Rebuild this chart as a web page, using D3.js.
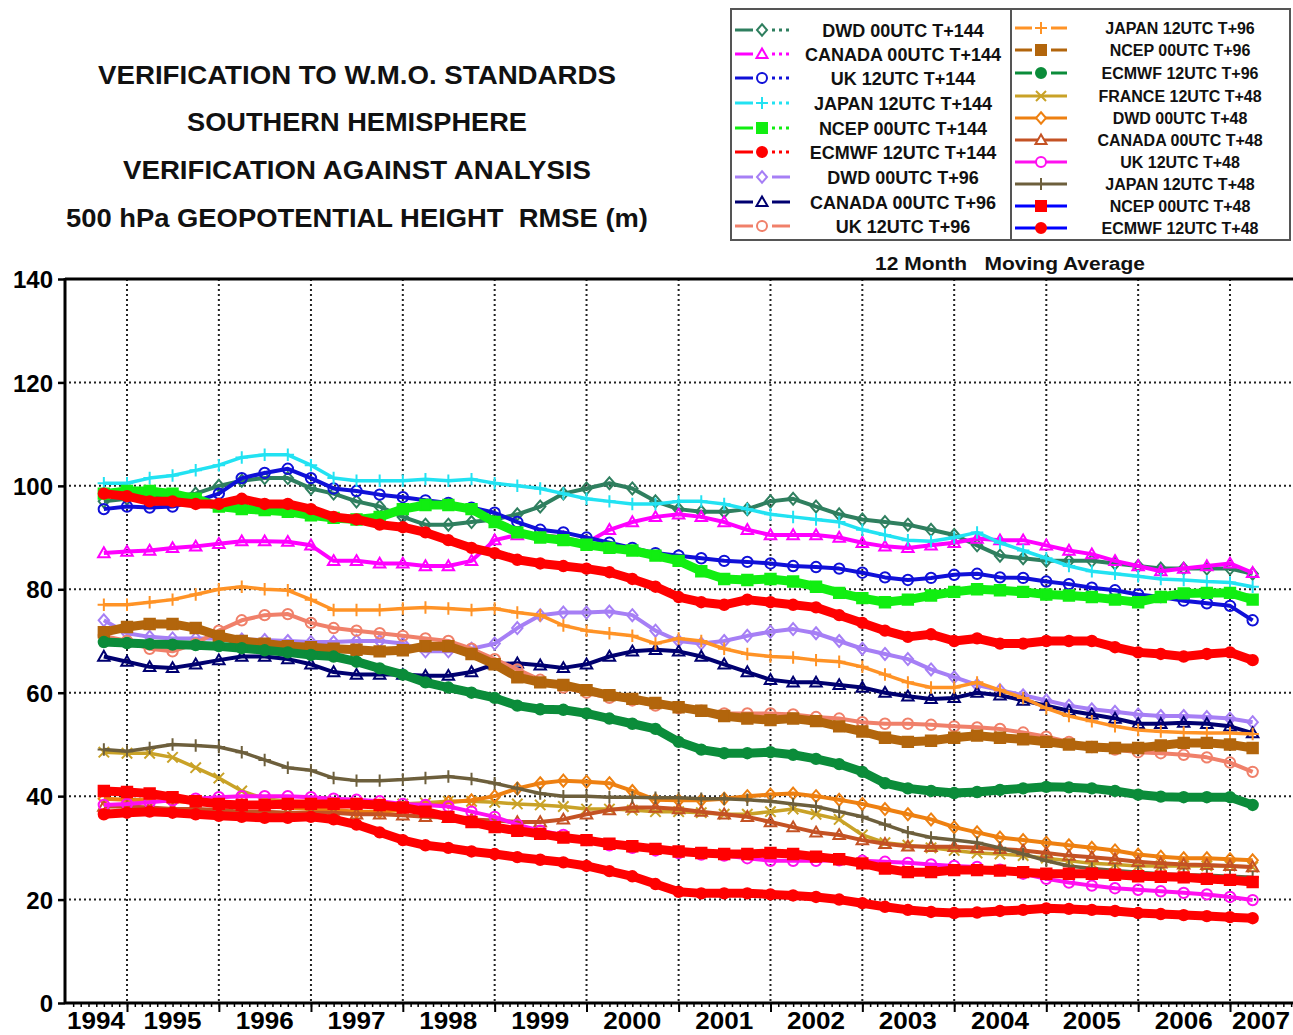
<!DOCTYPE html>
<html><head><meta charset="utf-8">
<script src="https://cdn.jsdelivr.net/npm/d3@7"></script>
<style>
body{margin:0;background:#fff;}
svg{display:block;font-family:"Liberation Sans",Arial,Helvetica,sans-serif;}
text{white-space:pre;}
</style>
</head><body><svg id="c" width="1293" height="1035"></svg>
<script>
// ---------- DATA ----------
const titleLines = [
  "VERIFICATION TO W.M.O. STANDARDS",
  "SOUTHERN HEMISPHERE",
  "VERIFICATION AGAINST ANALYSIS",
  "500 hPa GEOPOTENTIAL HEIGHT  RMSE (m)"
];
const subtitle = "12 Month   Moving Average";
const yTicks = [0, 20, 40, 60, 80, 100, 120, 140];
const yearLabels = ["1994","1995","1996","1997","1998","1999","2000","2001","2002","2003","2004","2005","2006","2007"];
const times = ["1994-10",
 "1995-01","1995-04","1995-07","1995-10","1996-01","1996-04","1996-07","1996-10",
 "1997-01","1997-04","1997-07","1997-10","1998-01","1998-04","1998-07","1998-10",
 "1999-01","1999-04","1999-07","1999-10","2000-01","2000-04","2000-07","2000-10",
 "2001-01","2001-04","2001-07","2001-10","2002-01","2002-04","2002-07","2002-10",
 "2003-01","2003-04","2003-07","2003-10","2004-01","2004-04","2004-07","2004-10",
 "2005-01","2005-04","2005-07","2005-10","2006-01","2006-04","2006-07","2006-10",
 "2007-01","2007-04"];

const seriesNames = [
  "DWD 00UTC T+144","CANADA 00UTC T+144","UK 12UTC T+144","JAPAN 12UTC T+144",
  "NCEP 00UTC T+144","ECMWF 12UTC T+144","DWD 00UTC T+96","CANADA 00UTC T+96",
  "UK 12UTC T+96","JAPAN 12UTC T+96","NCEP 00UTC T+96","ECMWF 12UTC T+96",
  "FRANCE 12UTC T+48","DWD 00UTC T+48","CANADA 00UTC T+48","UK 12UTC T+48",
  "JAPAN 12UTC T+48","NCEP 00UTC T+48","ECMWF 12UTC T+48"];

const dwd144 = [97,97.5,98,98,98.5,100,101,101.5,101.5,99.5, 98.5,97,96,94,92.5,92.5,93,93.5,94.5,96, 98.5,99.5,100.5,99.5,97,95.5,95,95,95.5,97, 97.5,96,94.5,93.5,93,92.5,91.5,90.5,88.5,86.5, 86,85.5,85.5,85.5,85,84.5,84,84,84,84, 83];
const can144 = [87,87.3,87.5,88,88.3,88.8,89.3,89.3,89.2,88.5, 85.5,85.5,85,85,84.5,84.5,85.5,89.5,90.5,90.5, 90,89,91.5,93,94,94.5,94,93,91.5,90.5, 90.5,90.5,90,89,88.3,88,88.5,89,89.8,89.5, 89.5,88.5,87.5,86.8,85.5,84.5,83.5,84,84.5,85, 83.2];
const uk144 = [95.5,96,95.8,96,97,98.5,101.5,102.5,103.3,101.5, 99.5,99,98.3,97.8,97.2,96.7,95.8,94.8,93,91.5, 91,90,89,88,87,86.5,86,85.5,85.3,85, 84.5,84.3,84,83.2,82.3,81.8,82.2,82.8,83,82.3, 82.2,81.5,81,80.3,79.8,79,78.5,77.8,77.3,76.8, 74];
const jap144 = [100.5,100.5,101.5,102,103,104,105.5,106,106,104, 101.5,101,101,101,101.3,101,101.3,100.5,100,99.5, 98.5,97.5,97,96.5,96.5,97,97,96.5,95.5,94.5, 94,93.5,93,91.5,90.5,89.5,89.3,90,91,89, 87.5,86,84.5,83.5,83,82.5,82,81.8,81.5,81.3, 80.5];
const ncep144 = [98.5,99,99,98.5,97.5,96,95.5,95.3,95,94.3, 93.8,93.5,94,95.5,96.3,96.3,95.5,93,91,90, 89.5,88.6,88,87.5,86.5,85.5,83.5,82,81.8,82, 81.5,80.5,79.3,78.3,77.5,78,78.8,79.5,80,79.8, 79.5,79,78.8,78.5,78,77.5,78.5,79.2,79.3,79.3, 78];
const ecm144 = [98.5,98,97,97,96.5,96.5,97.5,96.5,96.5,95.5, 94,93.5,92.5,92,91,89.5,88,87,85.7,85, 84.5,84,83.3,82,80.5,78.5,77.5,77,78,77.5, 77,76.5,75,73.5,72,70.8,71.3,70,70.5,69.5, 69.5,70,70,70,68.8,67.8,67.5,67,67.5,67.8, 66.3];
const dwd96 = [74,71.5,70.8,70.5,70.5,70.5,70.3,70.2,70,69.8, 69.8,70,70,69.5,68,68,68.5,69.5,72.5,75, 75.5,75.5,75.7,75,72,70,69.5,70,71,71.8, 72.3,71.5,70,68.5,67.5,66.5,64.5,63,61.5,60.5, 59.5,58.5,57.5,56.8,56.3,55.8,55.5,55.5,55.3,55, 54.3];
const can96 = [67,66,65,64.8,65.5,66.3,67,67,66.5,65.5, 64,63.5,63.5,63.5,63.3,63.3,64,65.5,65.7,65.3, 64.8,65.5,67,68,68.3,68,67,65.5,64,62.5, 62,62,61.5,61,60,59.3,58.8,59,60,59.5, 58.5,57.5,56.5,55.8,55,54,54,54.2,54,53.5, 52.2];
const uk96 = [71,70,68.5,68,69.5,72,74,75,75.2,73.5, 72.5,72,71.5,71,70.5,70,68.5,66.5,64.5,62.5, 61,60,59,58.5,57.5,57,56.5,56,56,56, 55.8,55.3,55,54.3,54,54,53.8,53.5,53.3,53, 52.3,51.5,50.5,49.5,49,48.5,48.3,48,47.5,46.5, 44.7];
const jap96 = [77,77,77.5,78,79,80,80.5,80,79.8,78, 76,76,76,76.3,76.5,76.3,76,76.3,75.5,75, 73,72,71.5,71,69.5,70.5,70,68.5,67.5,67, 66.8,66.3,66,65,63.5,62,61,61,62,60.5, 59,57,55.5,54.5,53.5,52.8,52.5,52.3,52.2,52.2, 52];
const ncep96 = [71.7,72.7,73.3,73.3,72.5,71,70,69.5,69,68.8, 68.5,68.3,68,68.2,69,69,67.5,65.5,63,62, 61.5,60.5,59.5,58.8,58,57.2,56.5,55.5,55,54.7, 55,54.5,53.5,52.5,51.3,50.5,50.7,51.3,51.7,51.3, 51,50.5,50,49.5,49.3,49.3,49.8,50.3,50.3,50, 49.3];
const ecm96 = [69.8,69.6,69.4,69.3,69.2,69,68.6,68.2,67.8,67.3, 67,66,64.7,63.5,62,61,60,59,57.5,56.8, 56.7,56,55,54,53,50.5,49,48.3,48.3,48.5, 48,47.2,46.2,44.7,42.5,41.5,41,40.6,40.8,41.2, 41.5,41.8,41.7,41.5,41,40.3,39.9,39.8,39.8,39.8, 38.3];
const fra48 = [48.5,48.3,48.3,47.5,45.5,43.5,41,39.5,39,38.8, 38.5,38.5,38.5,38.5,38.7,39,39,38.8,38.5,38.3, 38,37.5,37.5,37.3,37,37,36.8,36.5,36.5,37, 37.5,36.5,35.5,32.5,31,30.5,30,29.5,29,28.8, 28.5,28,27.5,27,26.8,26.5,26.5,26.5,26.5,26.5, 26.3];
const dwd48 = [39.5,39.3,39.2,39,38.8,38.5,38.3,38,37.8,37.5, 37.3,37,37,37.3,38,38.8,39.2,40,41.5,42.5, 43,42.8,42.5,41,39.3,39.2,39.2,39.5,40,40.3, 40.5,40,39.3,38.5,37.5,36.5,35.5,34,33,32, 31.5,31,30.5,30,29.5,28.7,28.3,28,28,27.8, 27.6];
const can48 = [38,38,37.8,37.5,37.5,37.3,37,37,36.8,36.8, 36.8,36.5,36.5,36.3,36,35.8,35.5,35.3,35,35, 35.5,36.5,37.3,37.8,37.8,37.5,37,36.5,36,35, 34,33,32.5,31.5,30.8,30.3,30.2,30.2,30,29.8, 29.5,29,28.5,28.2,27.8,27.3,27,26.8,26.7,26.5, 26.3];
const uk48 = [38.3,38.5,38.8,39.2,39.5,39.8,40,40,40,39.8, 39.5,39.3,39,38.5,38.3,38,37,36,34.5,33.3, 32.5,31.5,30.5,30,29.5,29,28.7,28.5,28,27.5, 27.5,27.5,27.6,27.5,27.3,27.1,26.8,26.5,26.3,25.8, 25,24,23.3,22.7,22.2,21.9,21.6,21.3,21,20.5, 19.9];
const jap48 = [49,48.7,49.3,50,49.8,49.5,48.5,47,45.5,45, 43.5,43,43,43.2,43.5,43.8,43.3,42.5,41.5,40.5, 40,40,39.8,39.8,39.7,39.7,39.5,39.5,39.3,39, 38.5,38,37,36,34.5,33,32,31.5,31,30, 28.8,27.5,26.5,26,25.6,25.3,25,24.8,24.7,24.5, 24.3];
const ncep48 = [41,40.8,40.5,39.8,39,38.5,38.3,38.3,38.5,38.5, 38.5,38.5,38.3,37.8,37,36,35,34,33.3,32.7, 32,31.5,30.8,30.3,29.8,29.3,29,28.8,28.8,29, 28.8,28.3,27.8,27,26,25.3,25.3,25.7,25.7,25.6, 25.3,25,25,25,24.8,24.5,24.4,24.3,24,23.8, 23.4];
const ecm48 = [36.5,36.8,37,36.8,36.5,36.2,36,35.8,35.8,36, 35.5,34.5,33,31.5,30.5,30,29.3,28.8,28.2,27.7, 27.2,26.5,25.5,24.5,23,21.5,21.2,21.2,21.2,21, 20.8,20.5,20,19.3,18.6,18,17.6,17.4,17.5,17.8, 18,18.3,18.2,18,17.8,17.4,17.2,17,16.8,16.6, 16.4];

const seriesValues = [dwd144, can144, uk144, jap144, ncep144, ecm144, dwd96, can96, uk96,
  jap96, ncep96, ecm96, fra48, dwd48, can48, uk48, jap48, ncep48, ecm48];

// ---------- STYLES ----------
const seriesColors = ["#2f7f5f","#ff00ff","#1010d8","#22e2f2","#11ee11","#ff0000","#a67ff5","#000070","#f0806a",
  "#ff9326","#b2650c","#0b8c3a","#c9a227","#ee8011","#c45224","#ff10f0","#6d5f3c","#ff0000","#ff0000"];
const legendLineColors = ["#2f7f5f","#ff00ff","#1010d8","#22e2f2","#11ee11","#ff0000","#a67ff5","#000070","#f0806a",
  "#ff9326","#b2650c","#0b8c3a","#c9a227","#ee8011","#c45224","#ff10f0","#6d5f3c","#0000ff","#0000ff"];
const seriesMarkers = ["diamond","triangle","circle","plus","square","dot","diamond","triangle","circle",
  "plus","square","dot","cross","diamond","triangle","circle","plus","square","dot"];
const seriesLineStyle = ["dashdot","dashdot","dashdot","dashdot","dashdot","dashdot","dash","dash","dash",
  "dash","dash","dash","solid","solid","solid","solid","solid","solid","solid"];

// ---------- DRAW ----------
const svg = d3.select("#c");
const P = {left:65, top:279, right:1293, bottom:1003};
const parse = d3.timeParse("%Y-%m");
const dates = times.map(parse);
const x = d3.scaleTime().domain([new Date(1995,0,1), new Date(2007,0,1)]).range([127,1230]);
const y = d3.scaleLinear().domain([0,140]).range([P.bottom, P.top]);

svg.append("rect").attr("width",1293).attr("height",1035).attr("fill","#fff");

// titles
const titleW = [518, 340, 468, 582];
const titleB = [84, 131, 179, 227];
titleLines.forEach((t,i)=>{
  svg.append("text").attr("x",357).attr("y",titleB[i]).attr("text-anchor","middle")
    .attr("font-size",25).attr("font-weight","bold").attr("fill","#111")
    .attr("textLength",titleW[i]).attr("lengthAdjust","spacingAndGlyphs").text(t);
});
svg.append("text").attr("x",875).attr("y",270).attr("font-size",18).attr("font-weight","bold")
  .attr("fill","#111").attr("textLength",270).attr("lengthAdjust","spacingAndGlyphs").text(subtitle);

// clip
svg.append("defs").append("clipPath").attr("id","clip").append("rect")
  .attr("x",P.left).attr("y",P.top-8).attr("width",P.right-P.left+10).attr("height",P.bottom-P.top+8);

// grid
const grid = svg.append("g").attr("stroke","#222").attr("stroke-width",2).attr("stroke-dasharray","2,3");
yTicks.filter(v=>v>0 && v<140).forEach(v=>{
  grid.append("line").attr("x1",P.left+4).attr("x2",P.right).attr("y1",y(v)).attr("y2",y(v));
});
const yearDates = d3.range(1995,2008).map(yr=>new Date(yr,0,1));
yearDates.forEach(d=>{
  grid.append("line").attr("x1",x(d)).attr("x2",x(d)).attr("y1",P.top).attr("y2",P.bottom);
});

// markers
function markerPath(type, s){
  switch(type){
    case "diamond": return `M0,${-s*1.15}L${s},0L0,${s*1.15}L${-s},0Z`;
    case "triangle": return `M0,${-s*1.1}L${s*1.1},${s*0.8}L${-s*1.1},${s*0.8}Z`;
    case "circle": case "dot": return `M${s},0A${s},${s} 0 1,1 ${-s},0A${s},${s} 0 1,1 ${s},0Z`;
    case "plus": return `M${-s*1.2},0H${s*1.2}M0,${-s*1.2}V${s*1.2}`;
    case "cross": return `M${-s},${-s}L${s},${s}M${-s},${s}L${s},${-s}`;
    case "square": return `M${-s},${-s}H${s}V${s}H${-s}Z`;
  }
}
function markerFill(type,c){ return (type==="square"||type==="dot") ? c : "none"; }
function lineW(type){ return (type==="square"||type==="dot") ? 9 : (type==="plus"||type==="cross") ? 3.5 : 4; }

const plotG = svg.append("g").attr("clip-path","url(#clip)");
const line = d3.line().x((d,i)=>x(dates[i])).y(d=>y(d));
seriesValues.forEach((vals,si)=>{
  const c = seriesColors[si], m = seriesMarkers[si];
  const g = plotG.append("g");
  g.append("path").attr("d",line(vals)).attr("fill","none").attr("stroke",c)
    .attr("stroke-width",lineW(m)).attr("stroke-linejoin","round");
  g.selectAll("path.m").data(vals).enter().append("path").attr("class","m")
    .attr("transform",(d,i)=>`translate(${x(dates[i])},${y(d)})`)
    .attr("d",markerPath(m, m==="plus"?5.2:5.2))
    .attr("fill",markerFill(m,c)).attr("stroke",c).attr("stroke-width",2);
});

// axes frame
const ax = svg.append("g").attr("stroke","#000");
ax.append("line").attr("x1",P.left).attr("x2",P.right).attr("y1",P.top).attr("y2",P.top).attr("stroke-width",3);
ax.append("line").attr("x1",P.left).attr("x2",P.right).attr("y1",P.bottom).attr("y2",P.bottom).attr("stroke-width",3);
ax.append("line").attr("x1",P.left).attr("x2",P.left).attr("y1",P.top-1).attr("y2",P.bottom+1).attr("stroke-width",3);

// y axis ticks + labels
const yAxis = d3.axisLeft(y).tickValues(yTicks).tickSize(7).tickSizeOuter(0).tickPadding(6).tickFormat(d=>d);
const yg = svg.append("g").attr("transform",`translate(${P.left},0)`).call(yAxis);
yg.select(".domain").remove();
yg.selectAll(".tick line").attr("stroke","#000").attr("stroke-width",2.5);
yg.selectAll(".tick text").attr("font-size",24).attr("font-weight","bold").attr("fill","#000")
  .attr("font-family","'Liberation Sans',Arial,sans-serif").attr("dy","0.36em").attr("x",-12);

// x axis: monthly minor ticks and yearly major ticks
const months = d3.timeMonth.range(new Date(1994,4,1), new Date(2007,9,1)).filter(d=>x(d)>P.left+2 && x(d)<P.right);
const xMinor = d3.axisBottom(x).tickValues(months).tickSize(4).tickSizeOuter(0).tickFormat("");
const xg1 = svg.append("g").attr("transform",`translate(0,${P.bottom})`).call(xMinor);
xg1.select(".domain").remove();
xg1.selectAll(".tick line").attr("stroke","#000").attr("stroke-width",1.5);
const xMajor = d3.axisBottom(x).tickValues(yearDates).tickSize(9).tickSizeOuter(0).tickFormat("");
const xg2 = svg.append("g").attr("transform",`translate(0,${P.bottom})`).call(xMajor);
xg2.select(".domain").remove();
xg2.selectAll(".tick line").attr("stroke","#000").attr("stroke-width",2);

// year labels centred in each year, kept inside the frame
yearLabels.forEach(lbl=>{
  const yr = +lbl;
  const cx = Math.max(96, Math.min(1261, x(new Date(yr,6,1))));
  svg.append("text").attr("x",cx).attr("y",1029).attr("text-anchor","middle")
    .attr("font-size",24).attr("font-weight","bold").attr("fill","#000")
    .attr("textLength",58).attr("lengthAdjust","spacingAndGlyphs").text(lbl);
});

// legend
const lg = svg.append("g");
lg.append("rect").attr("x",731).attr("y",9).attr("width",559).attr("height",231)
  .attr("fill","#fff").attr("stroke","#555").attr("stroke-width",2);
lg.append("line").attr("x1",1011).attr("x2",1011).attr("y1",9).attr("y2",240).attr("stroke","#555").attr("stroke-width",2);
const leftRows = [30,54,78,103,128,152,177,202,226];
const rightRows = [28,50,73,96,118,140,162,184,206,228];
seriesNames.forEach((name,si)=>{
  const left = si < 9;
  const ry = left ? leftRows[si] : rightRows[si-9];
  const x0 = left ? 735 : 1015, mx = left ? 762 : 1041, x1 = left ? 790 : 1067;
  const lc = legendLineColors[si], mc = seriesColors[si], m = seriesMarkers[si], st = seriesLineStyle[si];
  const g = lg.append("g");
  if (st === "solid") {
    g.append("line").attr("x1",x0).attr("x2",x1).attr("y1",ry).attr("y2",ry).attr("stroke",lc).attr("stroke-width",3);
  } else {
    g.append("line").attr("x1",x0).attr("x2",mx-9).attr("y1",ry).attr("y2",ry).attr("stroke",lc).attr("stroke-width",3);
    g.append("line").attr("x1",mx+10).attr("x2",x1).attr("y1",ry).attr("y2",ry).attr("stroke",lc).attr("stroke-width",3)
      .attr("stroke-dasharray", st==="dashdot" ? "3,4" : null);
  }
  g.append("path").attr("transform",`translate(${mx},${ry})`).attr("d",markerPath(m,5))
    .attr("fill",markerFill(m,mc)==="none" ? "#fff" : mc).attr("stroke",mc).attr("stroke-width",2);
  g.append("text").attr("x",left?903:1180).attr("y",ry+(left?6.5:5.5)).attr("text-anchor","middle")
    .attr("font-size",left?18:16).attr("font-weight","bold").attr("fill","#111").text(name);
});
</script>
</body></html>
